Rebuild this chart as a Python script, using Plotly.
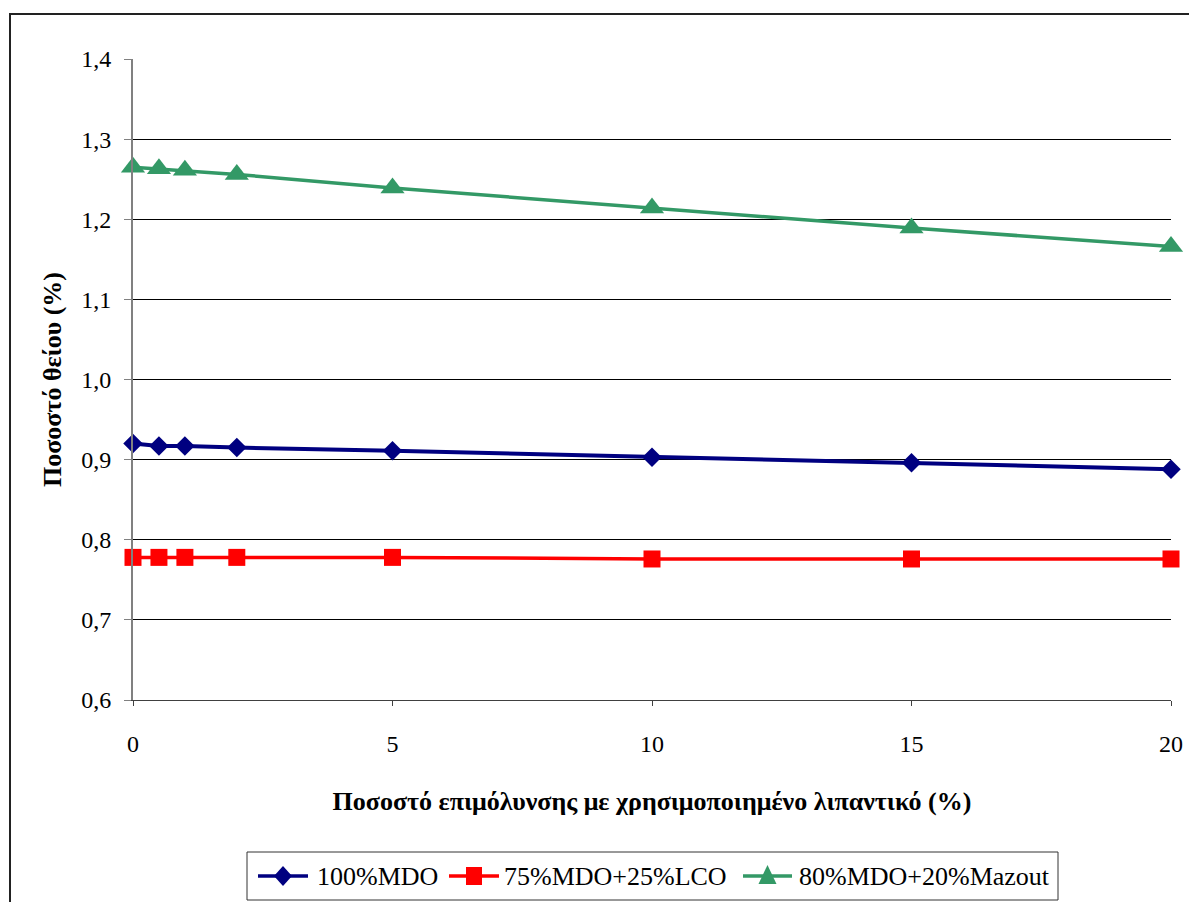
import plotly.graph_objects as go

# Contamination with used lubricant (%)
contamination = [0, 0.5, 1, 2, 5, 10, 15, 20]

# Sulphur content (%) for each fuel blend
mdo_100 = [0.920, 0.917, 0.917, 0.915, 0.911, 0.903, 0.896, 0.888]
mdo75_lco25 = [0.778, 0.778, 0.778, 0.778, 0.778, 0.776, 0.776, 0.776]
mdo80_mazout20 = [1.265, 1.263, 1.261, 1.256, 1.239, 1.214, 1.189, 1.166]

series_names = ["100%MDO", "75%MDO+25%LCO", "80%MDO+20%Mazout"]
series_colors = ["#000080", "#FF0000", "#339966"]
series_symbols = ["diamond", "square", "triangle-up"]

x_ticks = [0, 5, 10, 15, 20]
y_ticks = [0.6, 0.7, 0.8, 0.9, 1.0, 1.1, 1.2, 1.3, 1.4]

FONT = "Liberation Serif"

# plot-area geometry in pixels (used for the outer frame and the legend box)
W, H = 1189, 902
L, R, T, B = 133, 18, 59, 202
pw, ph = W - L - R, H - T - B


def px_x(p):
    return (p - L) / pw


def px_y(p):
    return (H - B - p) / ph


fig = go.Figure()

marker_sizes = [15, 17, 21]
line_widths = [4, 3.5, 3.5]
for ys, name, color, sym, ms, lw in zip(
        [mdo_100, mdo75_lco25, mdo80_mazout20], series_names, series_colors,
        series_symbols, marker_sizes, line_widths):
    fig.add_trace(go.Scatter(
        x=contamination, y=ys, name=name, mode="lines+markers",
        line=dict(color=color, width=lw), cliponaxis=False,
        marker=dict(symbol=sym, size=ms, color=color, line=dict(width=0)),
        showlegend=False,
    ))

# ---- legend box drawn with shapes and annotations ----
shapes = [
    # outer frame of the whole chart
    dict(type="rect", xref="paper", yref="paper",
         x0=px_x(10), x1=px_x(W + 10), y0=px_y(H + 10), y1=px_y(14),
         line=dict(color="#222222", width=2), fillcolor="rgba(0,0,0,0)",
         layer="below"),
    # legend frame
    dict(type="rect", xref="paper", yref="paper",
         x0=px_x(247), x1=px_x(1058), y0=px_y(900), y1=px_y(852),
         line=dict(color="#333333", width=1), fillcolor="white", layer="below"),
]
annotations = []

ly = 876
item_line_x = [(258, 308), (449, 499), (743, 792)]
item_text_x = [315, 502, 797]


def marker_path(kind, cx, cy):
    if kind == "diamond":
        pts = [(cx, cy - 10), (cx + 9, cy), (cx, cy + 10), (cx - 9, cy)]
    elif kind == "square":
        pts = [(cx - 8, cy - 9), (cx + 8, cy - 9), (cx + 8, cy + 9), (cx - 8, cy + 9)]
    else:
        pts = [(cx, cy - 11), (cx + 9, cy + 8), (cx - 9, cy + 8)]
    d = "M" + " L".join(f"{px_x(x):.5f},{px_y(y):.5f}" for x, y in pts) + " Z"
    return d


for (x0, x1), tx, name, color, sym in zip(item_line_x, item_text_x,
                                           series_names, series_colors,
                                           series_symbols):
    shapes.append(dict(type="line", xref="paper", yref="paper",
                       x0=px_x(x0), x1=px_x(x1), y0=px_y(ly), y1=px_y(ly),
                       line=dict(color=color, width=3.5)))
    shapes.append(dict(type="path", xref="paper", yref="paper",
                       path=marker_path(sym, (x0 + x1) / 2, ly),
                       fillcolor=color, line=dict(width=0)))
    annotations.append(dict(xref="paper", yref="paper", x=px_x(tx),
                            y=px_y(ly), xanchor="left", yanchor="middle",
                            text=name, showarrow=False,
                            font=dict(family=FONT, size=26, color="black")))

fig.update_layout(
    width=W, height=H,
    margin=dict(l=L, r=R, t=T, b=B, autoexpand=False),
    paper_bgcolor="white", plot_bgcolor="white",
    separators=", ",
    font=dict(family=FONT, size=24, color="black"),
    showlegend=False,
    xaxis=dict(
        range=[0, 20], tickvals=x_ticks, ticks="outside", ticklen=5,
        tickcolor="#404040", showgrid=False, zeroline=False,
        showline=True, linecolor="#404040", linewidth=1,
        tickfont=dict(family=FONT, size=24), ticklabelstandoff=17,
        title=dict(text="<b>Ποσοστό επιμόλυνσης με χρησιμοποιημένο λιπαντικό (%)</b>",
                   font=dict(family=FONT, size=26), standoff=36),
    ),
    yaxis=dict(
        range=[0.6, 1.4], tickvals=y_ticks, tickformat=".1f", ticks="outside",
        ticklen=7, tickcolor="#808080", showgrid=True, gridcolor="black",
        gridwidth=1, zeroline=False, showline=True, linecolor="#808080",
        linewidth=2, tickfont=dict(family=FONT, size=24), ticklabelstandoff=8,
        title=dict(text="<b>Ποσοστό θείου (%)</b>",
                   font=dict(family=FONT, size=26), standoff=12),
    ),
    shapes=shapes,
    annotations=annotations,
)

fig.write_html("out.html")
